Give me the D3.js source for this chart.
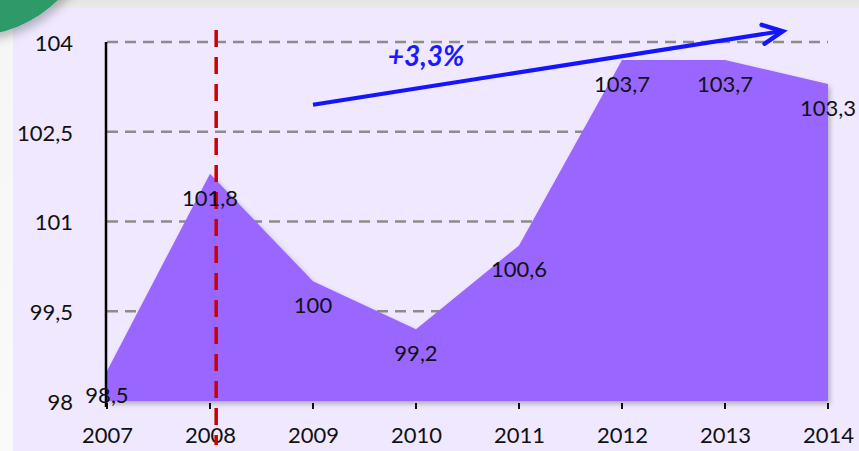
<!DOCTYPE html>
<html><head><meta charset="utf-8">
<script src="https://cdnjs.cloudflare.com/ajax/libs/d3/7.8.5/d3.min.js"></script>
<style>
html,body{margin:0;padding:0;background:#fff;}
svg{display:block;font-family:Lato,"Open Sans",sans-serif;}
</style></head>
<body><svg id="c" width="859" height="451"></svg>
<script>
const years = [2007, 2008, 2009, 2010, 2011, 2012, 2013, 2014];
const values = [98.5, 101.8, 100, 99.2, 100.6, 103.7, 103.7, 103.3];
const valueLabels = ["98,5", "101,8", "100", "99,2", "100,6", "103,7", "103,7", "103,3"];
const yTicks = [98, 99.5, 101, 102.5, 104];
const yTickLabels = ["98", "99,5", "101", "102,5", "104"];
const gridValues = [99.5, 101, 102.5, 104];
const crisisYear = 2008.06;
const trendFrom = [2009, 102.95];
const trendTo = [2013.56, 104.18];
const trendLabel = "+3,3%";

const svg = d3.select("#c");
const defs = svg.append("defs");
const bg = defs.append("linearGradient").attr("id","bg").attr("x1",0).attr("y1",0).attr("x2",0).attr("y2",1);
bg.append("stop").attr("offset","0").attr("stop-color","#e4e4e4");
bg.append("stop").attr("offset","0.05").attr("stop-color","#f6f6f6");
bg.append("stop").attr("offset","1").attr("stop-color","#fafafa");
const sh = defs.append("filter").attr("id","sh").attr("x","-10%").attr("y","-10%").attr("width","130%").attr("height","130%");
sh.append("feDropShadow").attr("dx",2).attr("dy",3).attr("stdDeviation",2.5).attr("flood-color","#000").attr("flood-opacity",0.25);
const gsh = defs.append("filter").attr("id","gsh").attr("x","-20%").attr("y","-20%").attr("width","150%").attr("height","150%");
gsh.append("feDropShadow").attr("dx",3).attr("dy",5).attr("stdDeviation",5).attr("flood-color","#000").attr("flood-opacity",0.25);

svg.append("rect").attr("width",859).attr("height",451).attr("fill","url(#bg)");
svg.append("rect").attr("x",13).attr("y",8).attr("width",846).attr("height",443).attr("fill","#efe8fe");
svg.append("circle").attr("cx",-30).attr("cy",-90).attr("r",126).attr("fill","#2f9a6a").attr("filter","url(#gsh)");

const x = d3.scaleLinear().domain([2007, 2014]).range([107, 828]);
const y = d3.scaleLinear().domain([98, 104]).range([401, 42]);

// gridlines
svg.append("g").selectAll("line").data(gridValues).join("line")
  .attr("x1", x(2007)).attr("x2", x(2014))
  .attr("y1", d => y(d)).attr("y2", d => y(d))
  .attr("stroke","#8c8c8c").attr("stroke-width",2.5).attr("stroke-dasharray","11,7");

// x ticks
svg.append("g").selectAll("line").data(years).join("line")
  .attr("x1", d => x(d)).attr("x2", d => x(d))
  .attr("y1", y(98)+2).attr("y2", y(98)+8)
  .attr("stroke","#111").attr("stroke-width",2);

// area
const area = d3.area().x((d,i) => x(years[i])).y0(y(98)).y1(d => y(d));
svg.append("path").datum(values).attr("d", area).attr("fill","#9966ff").attr("filter","url(#sh)");

// y axis
const yAxis = d3.axisLeft(y).tickValues(yTicks).tickFormat((d,i) => yTickLabels[i]).tickSize(0).tickPadding(33);
const ya = svg.append("g").attr("transform",`translate(${x(2007)-1},0)`).call(yAxis);
ya.select(".domain").attr("stroke","#000").attr("stroke-width",2.5).attr("d",`M0,${y(104)}V${y(98)+6}`);
ya.selectAll("text").attr("font-size",22).attr("fill","#111").attr("font-family","Lato,sans-serif").attr("dy","0.38em");

// x axis labels
const xAxis = d3.axisBottom(x).tickValues(years).tickFormat(d3.format("d")).tickSize(0).tickPadding(26);
const xa = svg.append("g").attr("transform",`translate(0,${y(98)})`).call(xAxis);
xa.select(".domain").remove();
xa.selectAll("text").attr("font-size",22).attr("fill","#111").attr("font-family","Lato,sans-serif");

// crisis line
svg.append("line").attr("x1",x(crisisYear)).attr("x2",x(crisisYear)).attr("y1",30).attr("y2",445)
  .attr("stroke","#cc0000").attr("stroke-width",3.5).attr("stroke-dasharray","17,10");

// data labels
svg.append("g").selectAll("text").data(values).join("text")
  .attr("x",(d,i) => x(years[i])).attr("y", d => y(d)+32)
  .attr("text-anchor","middle").attr("font-size",22).attr("fill","#111")
  .text((d,i) => valueLabels[i]);

// trend arrow
const x0 = x(trendFrom[0]), y0 = y(trendFrom[1]), x1 = x(trendTo[0]), y1 = y(trendTo[1]);
svg.append("line").attr("x1",x0).attr("y1",y0).attr("x2",x1-2).attr("y2",y1)
  .attr("stroke","#1414ff").attr("stroke-width",4);
const ang = Math.atan2(y1-y0, x1-x0);
const L = 22, a = 0.45;
const p1 = [x1 - L*Math.cos(ang - a), y1 - L*Math.sin(ang - a)];
const p2 = [x1 - L*Math.cos(ang + a), y1 - L*Math.sin(ang + a)];
svg.append("path").attr("d",`M${p1}L${x1},${y1}L${p2}`).attr("fill","none")
  .attr("stroke","#1414ff").attr("stroke-width",4.5).attr("stroke-linecap","round").attr("stroke-linejoin","miter");
svg.append("text").attr("x",426).attr("y",66).attr("text-anchor","middle")
  .attr("font-size",28).attr("font-weight","bold").attr("font-style","italic").attr("fill","#1a1aff")
  .text(trendLabel);
</script></body></html>
